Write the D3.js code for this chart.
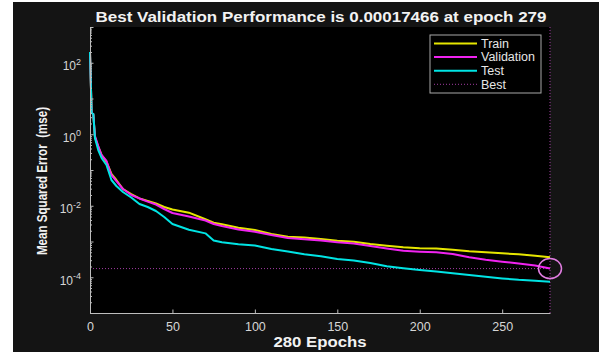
<!DOCTYPE html>
<html>
<head>
<meta charset="utf-8">
<script src="https://cdn.jsdelivr.net/npm/d3@7"></script>
<style>
  body { margin: 0; background: #fff; }
  svg { display: block; font-family: "Liberation Sans", Arial, sans-serif; }
</style>
</head>
<body>
<svg id="chart" width="599" height="352"></svg>
<script>
const epochs = [0, 1, 2, 3, 5, 7, 10, 13, 16, 20, 25, 30, 35, 40, 45, 50, 60, 70, 75, 80,
  90, 100, 110, 120, 130, 140, 150, 160, 170, 180, 190, 200, 210, 220, 230, 240, 250, 260, 270, 279];
const trainMse = [200, 3.93, 3.68, 0.838, 0.440, 0.263, 0.168, 0.0773, 0.0525, 0.0294,
  0.0213, 0.0161, 0.0136, 0.0116, 0.00923, 0.00785, 0.00640, 0.00418, 0.00336, 0.00303,
  0.00243, 0.00210, 0.00162, 0.00136, 0.00129, 0.00117, 0.00105, 0.000986, 0.000851, 0.000759,
  0.000689, 0.000646, 0.000640, 0.000590, 0.000532, 0.000499, 0.000468, 0.000439, 0.000401, 0.000361];
const validationMse = [200, 3.93, 3.68, 0.893, 0.469, 0.263, 0.179, 0.0725, 0.0492, 0.0294,
  0.0200, 0.0160, 0.0130, 0.0108, 0.00811, 0.00627, 0.00500, 0.00387, 0.00309, 0.00272,
  0.00217, 0.00188, 0.00152, 0.00125, 0.00115, 0.00107, 0.000950, 0.000879, 0.000748, 0.000637,
  0.000550, 0.000519, 0.000499, 0.000447, 0.000364, 0.000308, 0.000272, 0.000243, 0.000213, 0.00017466];
const testMse = [200, 3.93, 3.68, 0.785, 0.362, 0.217, 0.138, 0.0525, 0.0357, 0.0243,
  0.0170, 0.0112, 0.00923, 0.00713, 0.00484, 0.00309, 0.00214, 0.00169, 0.00107, 0.000950,
  0.000835, 0.000773, 0.000617, 0.000525, 0.000439, 0.000386, 0.000324, 0.000294, 0.000251, 0.000202,
  0.000178, 0.000160, 0.000145, 0.000129, 0.000116, 0.000103, 0.0000929, 0.0000849, 0.0000796, 0.0000752];

const bestEpoch = 279;
const bestPerf = 0.00017466;
const xTicks = [0, 50, 100, 150, 200, 250];
const yLabelExps = [-4, -2, 0, 2];
const seriesNames = ["Train", "Validation", "Test"];
const seriesColors = ["#e6e600", "#f023f0", "#00e4e4"];

var svg = d3.select("#chart");
var margin = { top: 27, right: 49, bottom: 39, left: 90 };
var w = 599, h = 352;

// figure background
svg.append("rect")
    .attr("x", 13).attr("y", 2)
    .attr("width", w - 13).attr("height", h - 2)
    .attr("fill", "#141414");

// axes background
svg.append("rect")
    .attr("x", margin.left).attr("y", margin.top)
    .attr("width", w - margin.left - margin.right)
    .attr("height", h - margin.top - margin.bottom)
    .attr("fill", "#000");

var x = d3.scaleLinear().domain([0, 279]).range([margin.left, w - margin.right]);
var y = d3.scaleLog().domain([1e-5, 1e3]).range([h - margin.bottom, margin.top]);

// best markers (dotted)
svg.append("line")
    .attr("x1", x(0)).attr("x2", x(bestEpoch))
    .attr("y1", y(bestPerf)).attr("y2", y(bestPerf))
    .attr("stroke", "#a23ca2").attr("stroke-width", 1)
    .attr("stroke-dasharray", "1,2");
svg.append("line")
    .attr("x1", x(bestEpoch)).attr("x2", x(bestEpoch))
    .attr("y1", y(1e3)).attr("y2", y(1e-5))
    .attr("stroke", "#a23ca2").attr("stroke-width", 1)
    .attr("stroke-dasharray", "1,2");

// curves
var allSeries = [trainMse, validationMse, testMse];
var line = d3.line()
    .x(function (d, i) { return x(epochs[i]); })
    .y(function (d) { return y(d); });

svg.append("g")
    .selectAll("path")
    .data(allSeries)
    .enter().append("path")
    .attr("d", line)
    .attr("fill", "none")
    .attr("stroke", function (d, i) { return seriesColors[i]; })
    .attr("stroke-width", 2)
    .attr("stroke-linejoin", "round");

// circle at best point
svg.append("ellipse")
    .attr("cx", x(bestEpoch)).attr("cy", y(bestPerf))
    .attr("rx", 11.5).attr("ry", 10)
    .attr("fill", "none")
    .attr("stroke", "#e07ce0")
    .attr("stroke-width", 1.5);

// x axis
var xAxis = svg.append("g")
    .attr("transform", "translate(0," + (h - margin.bottom) + ")")
    .call(d3.axisBottom(x).tickValues(xTicks).tickSizeInner(-3.5).tickSizeOuter(0).tickPadding(9));
xAxis.select(".domain").attr("stroke", "#bdbdbd");
xAxis.selectAll(".tick line").attr("stroke", "#bdbdbd");
xAxis.selectAll(".tick text").attr("fill", "#d6d6d6").attr("font-size", 12.5);

// y axis: decades + minor ticks
var decades = d3.range(-5, 4).map(function (e) { return Math.pow(10, e); });
var minors = [];
d3.range(-5, 3).forEach(function (e) {
    for (var k = 2; k < 10; k++) minors.push(k * Math.pow(10, e));
});
var yAxis = svg.append("g")
    .attr("transform", "translate(" + margin.left + ",0)")
    .call(d3.axisLeft(y).tickValues(decades).tickFormat("").tickSizeInner(-3.5).tickSizeOuter(0));
yAxis.select(".domain").attr("stroke", "#bdbdbd");
yAxis.selectAll(".tick line").attr("stroke", "#bdbdbd");
var yMinor = svg.append("g")
    .attr("transform", "translate(" + margin.left + ",0)")
    .call(d3.axisLeft(y).tickValues(minors).tickFormat("").tickSizeInner(-2).tickSizeOuter(0));
yMinor.select(".domain").remove();
yMinor.selectAll(".tick line").attr("stroke", "#bdbdbd");

// y tick labels 10^n
var yLab = svg.append("g")
    .selectAll("text")
    .data(yLabelExps)
    .enter().append("text")
    .attr("x", 81)
    .attr("y", function (d) { return y(Math.pow(10, d)) + 7.5; })
    .attr("text-anchor", "end")
    .attr("fill", "#d6d6d6")
    .attr("font-size", 12);
yLab.append("tspan").text("10");
yLab.append("tspan")
    .attr("dy", -5.5)
    .attr("font-size", 9)
    .text(function (d) { return d < 0 ? "-" + Math.abs(d) : d; });

// title (stretched to the width it has in the reference)
svg.append("text")
    .attr("x", 321)
    .attr("y", 22)
    .attr("text-anchor", "middle")
    .attr("fill", "#f2f2f2")
    .attr("font-weight", "bold")
    .attr("font-size", 14)
    .attr("textLength", 451)
    .attr("lengthAdjust", "spacingAndGlyphs")
    .text("Best Validation Performance is " + bestPerf + " at epoch " + bestEpoch);

// x label
svg.append("text")
    .attr("x", 320)
    .attr("y", 347)
    .attr("text-anchor", "middle")
    .attr("fill", "#f2f2f2")
    .attr("font-weight", "bold")
    .attr("font-size", 14)
    .attr("textLength", 93)
    .attr("lengthAdjust", "spacingAndGlyphs")
    .text((bestEpoch + 1) + " Epochs");

// y label (picture is stretched sideways, so glyphs are wider than tall here)
svg.append("text")
    .attr("transform", "translate(46.5,181) rotate(-90) scale(1,1.2)")
    .attr("text-anchor", "middle")
    .attr("fill", "#f2f2f2")
    .attr("font-weight", "bold")
    .attr("font-size", 11.6)
    .attr("xml:space", "preserve")
    .text("Mean Squared Error  (mse)");

// legend
var legend = svg.append("g").attr("transform", "translate(430,35)");
legend.append("rect")
    .attr("width", 111).attr("height", 58)
    .attr("fill", "#000")
    .attr("stroke", "#a8a8a8").attr("stroke-width", 1);
var legendItems = seriesNames.concat(["Best"]);
var li = legend.selectAll("g.item")
    .data(legendItems)
    .enter().append("g")
    .attr("class", "item")
    .attr("transform", function (d, i) { return "translate(0," + (8.5 + i * 13.6) + ")"; });
li.append("line")
    .attr("x1", 4).attr("x2", 47)
    .attr("stroke", function (d, i) { return i < 3 ? seriesColors[i] : "#a23ca2"; })
    .attr("stroke-width", function (d, i) { return i < 3 ? 2 : 1; })
    .attr("stroke-dasharray", function (d, i) { return i < 3 ? null : "1,2"; });
li.append("text")
    .attr("x", 51)
    .attr("dy", "0.35em")
    .attr("fill", "#e6e6e6")
    .attr("font-size", 12.5)
    .text(function (d) { return d; });
</script>
</body>
</html>
